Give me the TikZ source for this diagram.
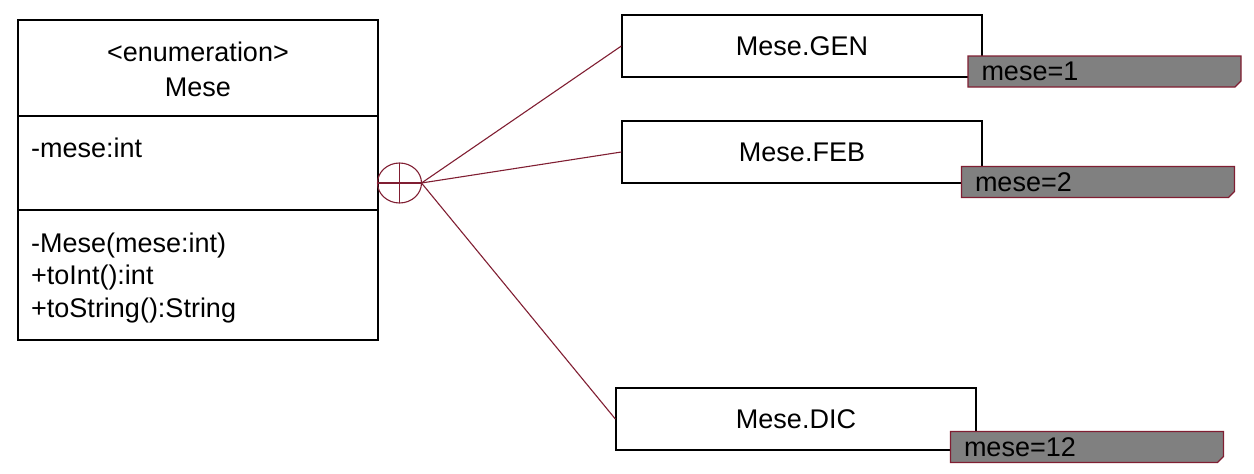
\documentclass[tikz,border=0pt]{standalone}
\usepackage{fontspec}
\setmainfont{Liberation Sans}
\usetikzlibrary{shapes.misc}
\definecolor{umlred}{RGB}{128,30,50}
\definecolor{notegray}{RGB}{128,128,128}
\begin{document}
\begin{tikzpicture}[x=1pt,y=-1pt,
  every node/.style={font=\fontsize{27}{33}\selectfont, inner sep=0pt},
  box/.style={draw=black, line width=1.3pt, minimum width=360pt, minimum height=62pt},
  note/.style={draw=umlred, fill=notegray, line width=1.2pt, chamfered rectangle,
    chamfered rectangle corners=south east, chamfered rectangle xsep=3pt,
    chamfered rectangle ysep=3pt, minimum width=273pt, minimum height=31pt,
    text width=250pt, align=left, inner sep=0pt},
  link/.style={draw=umlred, line width=1.1pt}]
\useasboundingbox (0,0) rectangle (1254,474);
% class box
\node[draw=black, line width=1.3pt, minimum width=360pt, minimum height=320pt] (cls) at (198,180) {};
\draw[line width=1.3pt] (18,116) -- (378,116);
\draw[line width=1.3pt] (18,210) -- (378,210);
\node (st) at (198,52) {<enumeration>};
\node (nm) at (198,87) {Mese};
\node[anchor=base west] (a1) at (31,157) {-mese:int};
\node[anchor=base west] (m1) at (31,252) {-Mese(mese:int)};
\node[anchor=base west] (m2) at (31,284.5) {+toInt():int};
\node[anchor=base west] (m3) at (31,317) {+toString():String};
% nesting circle
\coordinate (cc) at (399.5,183);
\draw[umlred, line width=1.1pt] (cc) ellipse (22pt and 20pt);
\draw[umlred, line width=1.1pt] (377.5,183) -- (421.5,183) (399.5,163) -- (399.5,203);
\coordinate (tip) at (421.5,183);
% instance boxes
\node[box] (gen) at (802,46) {Mese.GEN};
\node[box] (feb) at (802,152) {Mese.FEB};
\node[box] (dic) at (796,419) {Mese.DIC};
% links
\draw[link] (tip) -- (gen.west);
\draw[link] (tip) -- (feb.west);
\draw[link] (tip) -- (dic.west);
% notes
\node[note] (n1) at (1104.5,71.5) {\hspace*{2pt}mese=1};
\node[note] (n2) at (1098,182) {\hspace*{2pt}mese=2};
\node[note] (n3) at (1087,447) {\hspace*{2pt}mese=12};
\end{tikzpicture}
\end{document}
